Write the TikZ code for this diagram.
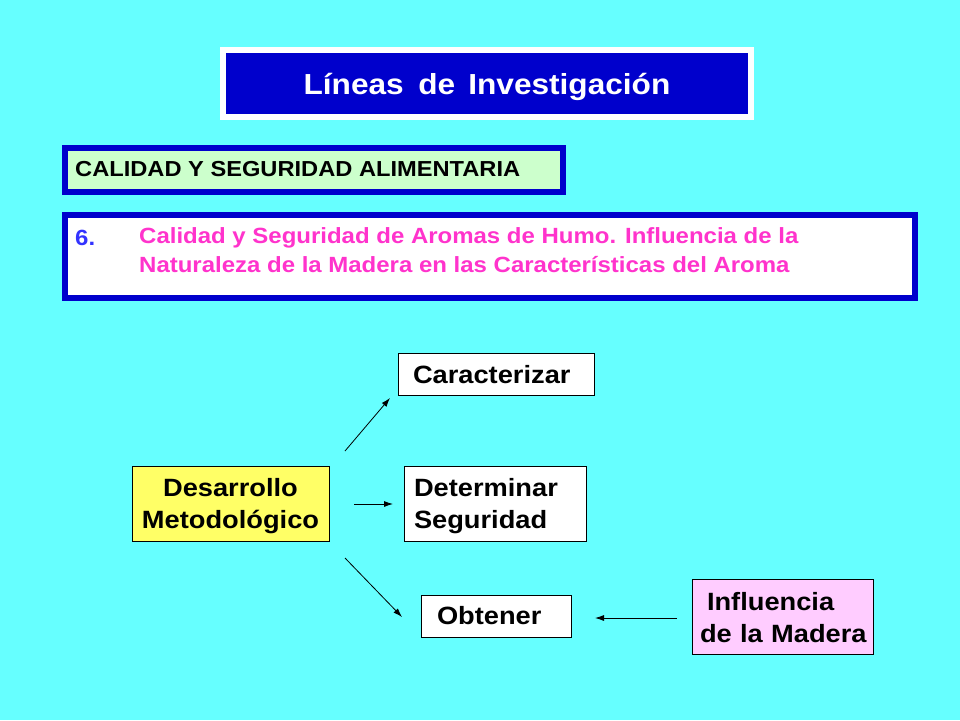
\documentclass[tikz,border=0pt]{standalone}
\usepackage{fontspec}
\setmainfont{Liberation Sans}[FakeStretch=1.09]
\usetikzlibrary{arrows.meta}
\definecolor{bgcyan}{HTML}{66FFFF}
\definecolor{dblue}{HTML}{0000CC}
\definecolor{lgreen}{HTML}{CCFFCC}
\definecolor{pinktxt}{HTML}{FF33CC}
\definecolor{numblue}{HTML}{3333FF}
\definecolor{lyellow}{HTML}{FFFF66}
\definecolor{lpink}{HTML}{FFCCFF}
\newcommand{\lowerby}[2]{\raisebox{-#1}[\height][\depth]{#2}}
\tikzset{
  every node/.style={font=\bfseries},
  lowbox/.style={draw=black, line width=0.8pt, fill=white, font=\fontsize{25}{32}\selectfont\bfseries, inner ysep=0pt, align=left},
  conn/.style={-{Latex[length=9pt,width=6pt]}, line width=0.8pt},
}
\begin{document}
\begin{tikzpicture}[x=1pt,y=-1pt]
\useasboundingbox (0,0) rectangle (960,720);
\fill[bgcyan] (0,0) rectangle (960,720);
% title
\node[fill=white, minimum width=534pt, minimum height=73pt, inner sep=0pt] (titleouter) at (487,83.5) {};
\node[fill=dblue, minimum width=522pt, minimum height=61pt, inner sep=0pt] (titlebox) at (487,83.5) {};
\node[anchor=base, inner sep=0pt, text=white, font=\fontsize{29}{32}\selectfont\bfseries] (title) at (487,94) {Líneas\hspace{0.2em} de\hspace{0.15em} Investigación};
% calidad box
\node[draw=dblue, line width=6pt, fill=lgreen, minimum width=498pt, minimum height=44pt, inner sep=0pt] (cal) at (314,170) {};
\node[anchor=west, inner sep=0pt, font=\fontsize{21.7}{24}\selectfont\bfseries] (caltxt) at (75,169) {CALIDAD Y SEGURIDAD ALIMENTARIA};
% item 6 box
\node[draw=dblue, line width=6pt, fill=white, minimum width=850pt, minimum height=83pt, inner sep=0pt] (six) at (490,256.5) {};
\node[anchor=west, inner sep=0pt, text=numblue, font=\fontsize{22}{29}\selectfont\bfseries] (num) at (75,238) {6.};
\node[anchor=north west, inner sep=0pt, text=pinktxt, align=left, font=\fontsize{22}{29}\selectfont\bfseries] (sixtxt) at (139,227) {Calidad y Seguridad de Aromas de Humo. Influencia de la\\Naturaleza de la Madera en las Características del Aroma};
% lower diagram
\node[lowbox, inner xsep=15pt, text width=166pt, minimum height=42pt] (car) at (496,374) {\lowerby{1pt}{Caracterizar}};
\node[lowbox, inner xsep=10pt, text width=162pt, minimum height=75pt] (det) at (495,503.5) {\lowerby{3pt}{Determinar}\\\lowerby{3pt}{Seguridad}};
\node[lowbox, fill=lyellow, inner xsep=5pt, text width=187pt, minimum height=75pt, align=center] (des) at (230.5,503.5) {\lowerby{3pt}{Desarrollo}\\\lowerby{3pt}{Metodológico}};
\node[lowbox, inner xsep=16pt, text width=118pt, minimum height=42pt] (obt) at (496,616) {Obtener};
\node[lowbox, fill=lpink, inner xsep=8pt, text width=165pt, minimum height=75pt] (inf) at (782.5,616.5) {\lowerby{1.5pt}{\hspace{7pt}Influencia}\\\lowerby{1.5pt}{de la Madera}};
% connectors
\coordinate (a1s) at (345,451);
\coordinate (a1e) at (390,398);
\coordinate (a2s) at (354,504);
\coordinate (a2e) at (393,504);
\coordinate (a3s) at (345,558);
\coordinate (a3e) at (402,617);
\coordinate (a4s) at (677,618);
\coordinate (a4e) at (595,618);
\draw[conn] (a1s) -- (a1e);
\draw[conn] (a2s) -- (a2e);
\draw[conn] (a3s) -- (a3e);
\draw[conn] (a4s) -- (a4e);
\end{tikzpicture}
\end{document}
